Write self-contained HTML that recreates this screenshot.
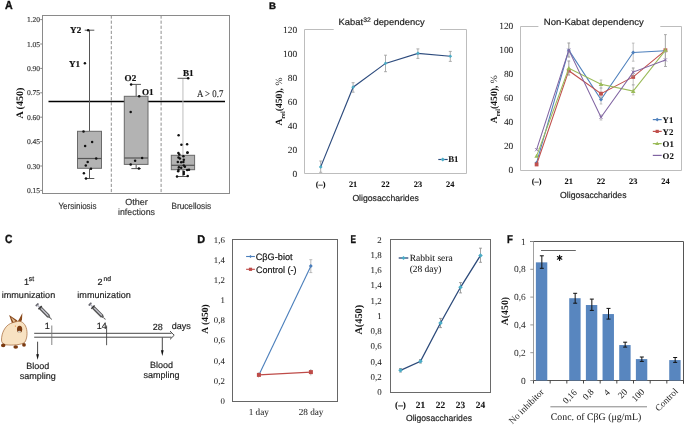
<!DOCTYPE html><html><head><meta charset="utf-8"><style>html,body{margin:0;padding:0;background:#fff;overflow:hidden}svg{display:block;will-change:transform;text-rendering:geometricPrecision}</style></head><body>
<svg width="685" height="426" viewBox="0 0 685 426">
<rect width="685" height="426" fill="#fff"/>
<text x="5.1" y="8.6" style="font-family:'Liberation Sans',sans-serif;font-size:11.6px;font-weight:bold" text-anchor="start" fill="#111" stroke="#111" stroke-width="0.35" textLength="7.7" lengthAdjust="spacingAndGlyphs" >A</text>
<rect x="42.5" y="15.5" width="187.0" height="178.0" fill="none" stroke="#8a8a8a" stroke-width="1"/>
<line x1="40.2" y1="19.6" x2="42.5" y2="19.6" stroke="#8a8a8a" stroke-width="1" />
<text x="40.1" y="22.200000000000003" style="font-family:'Liberation Serif',serif;font-size:7.5px;font-weight:normal" text-anchor="end" fill="#333" stroke="#333" stroke-width="0.15" >1.20</text>
<line x1="40.2" y1="43.999999999999986" x2="42.5" y2="43.999999999999986" stroke="#8a8a8a" stroke-width="1" />
<text x="40.1" y="46.59999999999999" style="font-family:'Liberation Serif',serif;font-size:7.5px;font-weight:normal" text-anchor="end" fill="#333" stroke="#333" stroke-width="0.15" >1.05</text>
<line x1="40.2" y1="68.39999999999998" x2="42.5" y2="68.39999999999998" stroke="#8a8a8a" stroke-width="1" />
<text x="40.1" y="70.99999999999997" style="font-family:'Liberation Serif',serif;font-size:7.5px;font-weight:normal" text-anchor="end" fill="#333" stroke="#333" stroke-width="0.15" >0.90</text>
<line x1="40.2" y1="92.79999999999998" x2="42.5" y2="92.79999999999998" stroke="#8a8a8a" stroke-width="1" />
<text x="40.1" y="95.39999999999998" style="font-family:'Liberation Serif',serif;font-size:7.5px;font-weight:normal" text-anchor="end" fill="#333" stroke="#333" stroke-width="0.15" >0.75</text>
<line x1="40.2" y1="117.19999999999999" x2="42.5" y2="117.19999999999999" stroke="#8a8a8a" stroke-width="1" />
<text x="40.1" y="119.79999999999998" style="font-family:'Liberation Serif',serif;font-size:7.5px;font-weight:normal" text-anchor="end" fill="#333" stroke="#333" stroke-width="0.15" >0.60</text>
<line x1="40.2" y1="141.6" x2="42.5" y2="141.6" stroke="#8a8a8a" stroke-width="1" />
<text x="40.1" y="144.2" style="font-family:'Liberation Serif',serif;font-size:7.5px;font-weight:normal" text-anchor="end" fill="#333" stroke="#333" stroke-width="0.15" >0.45</text>
<line x1="40.2" y1="165.99999999999997" x2="42.5" y2="165.99999999999997" stroke="#8a8a8a" stroke-width="1" />
<text x="40.1" y="168.59999999999997" style="font-family:'Liberation Serif',serif;font-size:7.5px;font-weight:normal" text-anchor="end" fill="#333" stroke="#333" stroke-width="0.15" >0.30</text>
<line x1="40.2" y1="190.4" x2="42.5" y2="190.4" stroke="#8a8a8a" stroke-width="1" />
<text x="40.1" y="193.0" style="font-family:'Liberation Serif',serif;font-size:7.5px;font-weight:normal" text-anchor="end" fill="#333" stroke="#333" stroke-width="0.15" >0.15</text>
<line x1="111.3" y1="15.5" x2="111.3" y2="193.5" stroke="#8f8f8f" stroke-width="1" stroke-dasharray="3.2,1.9"/>
<line x1="161.1" y1="15.5" x2="161.1" y2="193.5" stroke="#8f8f8f" stroke-width="1" stroke-dasharray="3.2,1.9"/>
<line x1="48.5" y1="101.4" x2="225" y2="101.4" stroke="#000" stroke-width="1.5" />
<text x="223.3" y="97.3" style="font-family:'Liberation Serif',serif;font-size:10.2px;font-weight:normal" text-anchor="end" fill="#222" stroke="#222" stroke-width="0.1" textLength="26.3" lengthAdjust="spacingAndGlyphs" >A &gt; 0.7</text>
<line x1="89.5" y1="30.2" x2="89.5" y2="131.3" stroke="#555" stroke-width="1" />
<line x1="89.5" y1="168.3" x2="89.5" y2="178.5" stroke="#555" stroke-width="1" />
<line x1="84.7" y1="30.2" x2="94.3" y2="30.2" stroke="#555" stroke-width="1" />
<line x1="84.7" y1="178.5" x2="94.3" y2="178.5" stroke="#555" stroke-width="1" />
<rect x="77.5" y="131.3" width="24.0" height="37.0" fill="#b3b3b3" stroke="#6a6a6a" stroke-width="1"/>
<line x1="77.5" y1="158.5" x2="101.5" y2="158.5" stroke="#555" stroke-width="1.2" />
<line x1="136.15" y1="84.4" x2="136.15" y2="96.3" stroke="#555" stroke-width="1" />
<line x1="136.15" y1="164.4" x2="136.15" y2="168.6" stroke="#555" stroke-width="1" />
<line x1="131.35" y1="84.4" x2="140.95000000000002" y2="84.4" stroke="#555" stroke-width="1" />
<line x1="131.35" y1="168.6" x2="140.95000000000002" y2="168.6" stroke="#555" stroke-width="1" />
<rect x="124.3" y="96.3" width="23.700000000000003" height="68.10000000000001" fill="#b3b3b3" stroke="#6a6a6a" stroke-width="1"/>
<line x1="124.3" y1="158" x2="148" y2="158" stroke="#555" stroke-width="1.2" />
<line x1="182.95" y1="78.3" x2="182.95" y2="155.3" stroke="#bdbdbd" stroke-width="1" />
<line x1="182.95" y1="169.7" x2="182.95" y2="176.5" stroke="#555" stroke-width="1" />
<line x1="177.54999999999998" y1="78.3" x2="188.35" y2="78.3" stroke="#555" stroke-width="1" />
<line x1="177.54999999999998" y1="176.5" x2="188.35" y2="176.5" stroke="#555" stroke-width="1" />
<rect x="171.3" y="155.3" width="23.299999999999983" height="14.399999999999977" fill="#b3b3b3" stroke="#6a6a6a" stroke-width="1"/>
<line x1="171.3" y1="165.3" x2="194.6" y2="165.3" stroke="#555" stroke-width="1.2" />
<circle cx="88.2" cy="30.2" r="1.25" fill="#111"/>
<circle cx="84.9" cy="63.3" r="1.25" fill="#111"/>
<circle cx="83.5" cy="131.4" r="1.25" fill="#111"/>
<circle cx="92.1" cy="142" r="1.25" fill="#111"/>
<circle cx="85.1" cy="145.9" r="1.25" fill="#111"/>
<circle cx="96.2" cy="158.5" r="1.25" fill="#111"/>
<circle cx="87.7" cy="162" r="1.25" fill="#111"/>
<circle cx="85.8" cy="165.5" r="1.25" fill="#111"/>
<circle cx="91" cy="168.7" r="1.25" fill="#111"/>
<circle cx="83.9" cy="173.2" r="1.25" fill="#111"/>
<circle cx="86" cy="178.5" r="1.25" fill="#111"/>
<circle cx="131.1" cy="84.4" r="1.25" fill="#111"/>
<circle cx="139.2" cy="96.3" r="1.25" fill="#111"/>
<circle cx="130.7" cy="112.1" r="1.25" fill="#111"/>
<circle cx="142.1" cy="158" r="1.25" fill="#111"/>
<circle cx="135.1" cy="160.8" r="1.25" fill="#111"/>
<circle cx="130.7" cy="164.5" r="1.25" fill="#111"/>
<circle cx="138.9" cy="168.6" r="1.25" fill="#111"/>
<circle cx="188.2" cy="78.3" r="1.25" fill="#111"/>
<circle cx="178.6" cy="135.3" r="1.25" fill="#111"/>
<circle cx="181.4" cy="144.7" r="1.25" fill="#111"/>
<circle cx="187.1" cy="144.2" r="1.25" fill="#111"/>
<circle cx="187.5" cy="152.5" r="1.25" fill="#111"/>
<circle cx="178.4" cy="153.1" r="1.25" fill="#111"/>
<circle cx="179.3" cy="154.4" r="1.25" fill="#111"/>
<circle cx="187.4" cy="152.7" r="1.25" fill="#111"/>
<circle cx="183.4" cy="156.3" r="1.25" fill="#111"/>
<circle cx="178.5" cy="157.6" r="1.25" fill="#111"/>
<circle cx="179.9" cy="158.5" r="1.25" fill="#111"/>
<circle cx="183.8" cy="159.7" r="1.25" fill="#111"/>
<circle cx="177.8" cy="161.9" r="1.25" fill="#111"/>
<circle cx="181.2" cy="162.3" r="1.25" fill="#111"/>
<circle cx="183.4" cy="161.9" r="1.25" fill="#111"/>
<circle cx="183.8" cy="165.4" r="1.25" fill="#111"/>
<circle cx="184.9" cy="166.8" r="1.25" fill="#111"/>
<circle cx="178.9" cy="167.2" r="1.25" fill="#111"/>
<circle cx="181.2" cy="167.7" r="1.25" fill="#111"/>
<circle cx="178.5" cy="169.8" r="1.25" fill="#111"/>
<circle cx="187.2" cy="170" r="1.25" fill="#111"/>
<circle cx="189" cy="169.8" r="1.25" fill="#111"/>
<circle cx="178.2" cy="171.3" r="1.25" fill="#111"/>
<circle cx="183.8" cy="172.1" r="1.25" fill="#111"/>
<circle cx="183.8" cy="173.9" r="1.25" fill="#111"/>
<circle cx="177" cy="176.6" r="1.25" fill="#111"/>
<circle cx="187.7" cy="176" r="1.25" fill="#111"/>
<text x="81.2" y="33.2" style="font-family:'Liberation Serif',serif;font-size:9.1px;font-weight:bold" text-anchor="end" fill="#111" stroke="#111" stroke-width="0.2" >Y2</text>
<text x="80" y="66.5" style="font-family:'Liberation Serif',serif;font-size:9.1px;font-weight:bold" text-anchor="end" fill="#111" stroke="#111" stroke-width="0.2" >Y1</text>
<text x="124.6" y="80.8" style="font-family:'Liberation Serif',serif;font-size:9.1px;font-weight:bold" text-anchor="start" fill="#111" stroke="#111" stroke-width="0.2" >O2</text>
<text x="141.9" y="95.3" style="font-family:'Liberation Serif',serif;font-size:9.1px;font-weight:bold" text-anchor="start" fill="#111" stroke="#111" stroke-width="0.2" >O1</text>
<text x="183" y="75.6" style="font-family:'Liberation Serif',serif;font-size:9.1px;font-weight:bold" text-anchor="start" fill="#111" stroke="#111" stroke-width="0.2" >B1</text>
<text transform="translate(23.2,103.2) rotate(-90)" x="0" y="0" style="font-family:'Liberation Serif',serif;font-size:10px;font-weight:bold" text-anchor="middle" fill="#111">A (450)</text>
<text x="77.45" y="208.8" style="font-family:'Liberation Sans',sans-serif;font-size:9px;font-weight:normal" text-anchor="middle" fill="#333" stroke="#333" stroke-width="0.18" textLength="37.9" lengthAdjust="spacingAndGlyphs">Yersiniosis</text>
<text x="136.5" y="205" style="font-family:'Liberation Sans',sans-serif;font-size:9px;font-weight:normal" text-anchor="middle" fill="#333" stroke="#333" stroke-width="0.18" >Other</text>
<text x="136.5" y="215.4" style="font-family:'Liberation Sans',sans-serif;font-size:9px;font-weight:normal" text-anchor="middle" fill="#333" stroke="#333" stroke-width="0.18" textLength="36.9" lengthAdjust="spacingAndGlyphs">infections</text>
<text x="191.3" y="208.6" style="font-family:'Liberation Sans',sans-serif;font-size:9px;font-weight:normal" text-anchor="middle" fill="#333" stroke="#333" stroke-width="0.18" textLength="39.7" lengthAdjust="spacingAndGlyphs">Brucellosis</text>
<text x="269.1" y="8.5" style="font-family:'Liberation Sans',sans-serif;font-size:9.4px;font-weight:bold" text-anchor="start" fill="#111" stroke="#111" stroke-width="0.35" textLength="7.0" lengthAdjust="spacingAndGlyphs" >B</text>
<line x1="304.5" y1="29.5" x2="304.5" y2="173.5" stroke="#bdbdbd" stroke-width="1" />
<line x1="304.5" y1="173.5" x2="466.5" y2="173.5" stroke="#bdbdbd" stroke-width="1" />
<line x1="466.5" y1="29.5" x2="466.5" y2="173.5" stroke="#bdbdbd" stroke-width="1" />
<line x1="304.5" y1="29.5" x2="333.7" y2="29.5" stroke="#bdbdbd" stroke-width="1" />
<line x1="440" y1="29.5" x2="466.5" y2="29.5" stroke="#bdbdbd" stroke-width="1" />
<text x="338.6" y="24.9" style="font-family:'Liberation Sans',sans-serif;font-size:9px;font-weight:normal" text-anchor="start" fill="#222" stroke="#222" stroke-width="0.18" textLength="86" lengthAdjust="spacingAndGlyphs">Kabat<tspan style="font-size:6.6px" dy="-3">32</tspan><tspan dy="3"> dependency</tspan></text>
<text x="297.09999999999997" y="176.55" style="font-family:'Liberation Serif',serif;font-size:9.4px;font-weight:normal" text-anchor="end" fill="#222" stroke="#222" stroke-width="0.04" >0</text>
<text x="297.09999999999997" y="152.55" style="font-family:'Liberation Serif',serif;font-size:9.4px;font-weight:normal" text-anchor="end" fill="#222" stroke="#222" stroke-width="0.04" >20</text>
<text x="297.09999999999997" y="128.55" style="font-family:'Liberation Serif',serif;font-size:9.4px;font-weight:normal" text-anchor="end" fill="#222" stroke="#222" stroke-width="0.04" >40</text>
<text x="297.09999999999997" y="104.55" style="font-family:'Liberation Serif',serif;font-size:9.4px;font-weight:normal" text-anchor="end" fill="#222" stroke="#222" stroke-width="0.04" >60</text>
<text x="297.09999999999997" y="80.55" style="font-family:'Liberation Serif',serif;font-size:9.4px;font-weight:normal" text-anchor="end" fill="#222" stroke="#222" stroke-width="0.04" >80</text>
<text x="297.09999999999997" y="56.55" style="font-family:'Liberation Serif',serif;font-size:9.4px;font-weight:normal" text-anchor="end" fill="#222" stroke="#222" stroke-width="0.04" >100</text>
<text x="297.09999999999997" y="32.55" style="font-family:'Liberation Serif',serif;font-size:9.4px;font-weight:normal" text-anchor="end" fill="#222" stroke="#222" stroke-width="0.04" >120</text>
<text x="320.7" y="187.3" style="font-family:'Liberation Serif',serif;font-size:8.4px;font-weight:bold" text-anchor="middle" fill="#111" stroke="#111" stroke-width="0.08" >(–)</text>
<text x="353.09999999999997" y="187.3" style="font-family:'Liberation Serif',serif;font-size:8.4px;font-weight:bold" text-anchor="middle" fill="#111" stroke="#111" stroke-width="0.08" >21</text>
<text x="385.5" y="187.3" style="font-family:'Liberation Serif',serif;font-size:8.4px;font-weight:bold" text-anchor="middle" fill="#111" stroke="#111" stroke-width="0.08" >22</text>
<text x="417.9" y="187.3" style="font-family:'Liberation Serif',serif;font-size:8.4px;font-weight:bold" text-anchor="middle" fill="#111" stroke="#111" stroke-width="0.08" >23</text>
<text x="450.29999999999995" y="187.3" style="font-family:'Liberation Serif',serif;font-size:8.4px;font-weight:bold" text-anchor="middle" fill="#111" stroke="#111" stroke-width="0.08" >24</text>
<text x="385.6" y="200.9" style="font-family:'Liberation Sans',sans-serif;font-size:8.7px;font-weight:normal" text-anchor="middle" fill="#222" stroke="#222" stroke-width="0.18" textLength="66.4" lengthAdjust="spacingAndGlyphs">Oligosaccharides</text>
<text transform="translate(282,101.6) rotate(-90)" style="font-family:'Liberation Serif',serif;font-size:9.6px;font-weight:bold" text-anchor="middle" fill="#111">A<tspan style="font-size:6.5px" dy="2.5">rel</tspan><tspan dy="-2.5">(450), </tspan><tspan style="font-weight:normal">%</tspan></text>
<line x1="320.7" y1="161" x2="320.7" y2="172.3" stroke="#9a9a9a" stroke-width="0.8" />
<line x1="319.2" y1="161" x2="322.2" y2="161" stroke="#9a9a9a" stroke-width="0.8" />
<line x1="319.2" y1="172.3" x2="322.2" y2="172.3" stroke="#9a9a9a" stroke-width="0.8" />
<line x1="353.09999999999997" y1="82.7" x2="353.09999999999997" y2="92.2" stroke="#9a9a9a" stroke-width="0.8" />
<line x1="351.59999999999997" y1="82.7" x2="354.59999999999997" y2="82.7" stroke="#9a9a9a" stroke-width="0.8" />
<line x1="351.59999999999997" y1="92.2" x2="354.59999999999997" y2="92.2" stroke="#9a9a9a" stroke-width="0.8" />
<line x1="385.5" y1="55.2" x2="385.5" y2="71.7" stroke="#9a9a9a" stroke-width="0.8" />
<line x1="384.0" y1="55.2" x2="387.0" y2="55.2" stroke="#9a9a9a" stroke-width="0.8" />
<line x1="384.0" y1="71.7" x2="387.0" y2="71.7" stroke="#9a9a9a" stroke-width="0.8" />
<line x1="417.9" y1="48.9" x2="417.9" y2="58.4" stroke="#9a9a9a" stroke-width="0.8" />
<line x1="416.4" y1="48.9" x2="419.4" y2="48.9" stroke="#9a9a9a" stroke-width="0.8" />
<line x1="416.4" y1="58.4" x2="419.4" y2="58.4" stroke="#9a9a9a" stroke-width="0.8" />
<line x1="450.29999999999995" y1="51.4" x2="450.29999999999995" y2="61.4" stroke="#9a9a9a" stroke-width="0.8" />
<line x1="448.79999999999995" y1="51.4" x2="451.79999999999995" y2="51.4" stroke="#9a9a9a" stroke-width="0.8" />
<line x1="448.79999999999995" y1="61.4" x2="451.79999999999995" y2="61.4" stroke="#9a9a9a" stroke-width="0.8" />
<polyline points="320.7,166.9 353.1,87.2 385.5,63.4 417.9,53.4 450.3,56.3" fill="none" stroke="#2e4c7e" stroke-width="1.15"/>
<rect x="319.40" y="165.59" width="2.6" height="2.6" fill="#4bacc6" transform="rotate(45 320.70 166.89)"/>
<rect x="351.80" y="85.86" width="2.6" height="2.6" fill="#4bacc6" transform="rotate(45 353.10 87.16)"/>
<rect x="384.20" y="62.05" width="2.6" height="2.6" fill="#4bacc6" transform="rotate(45 385.50 63.35)"/>
<rect x="416.60" y="52.07" width="2.6" height="2.6" fill="#4bacc6" transform="rotate(45 417.90 53.37)"/>
<rect x="449.00" y="54.96" width="2.6" height="2.6" fill="#4bacc6" transform="rotate(45 450.30 56.26)"/>
<line x1="438.3" y1="159.5" x2="447.7" y2="159.5" stroke="#2e4c7e" stroke-width="1.15" />
<rect x="441.3" y="158.0" width="3" height="3" fill="#4bacc6" transform="rotate(45 442.8 159.5)"/>
<text x="448.2" y="162.2" style="font-family:'Liberation Serif',serif;font-size:8.8px;font-weight:bold" text-anchor="start" fill="#111" stroke="#111" stroke-width="0.08" >B1</text>
<line x1="520.5" y1="26.5" x2="520.5" y2="170.5" stroke="#bdbdbd" stroke-width="1" />
<line x1="520.5" y1="170.5" x2="681.5" y2="170.5" stroke="#bdbdbd" stroke-width="1" />
<line x1="681.5" y1="26.5" x2="681.5" y2="170.5" stroke="#bdbdbd" stroke-width="1" />
<line x1="520.5" y1="26.5" x2="538.4" y2="26.5" stroke="#bdbdbd" stroke-width="1" />
<line x1="660.3" y1="26.5" x2="681.5" y2="26.5" stroke="#bdbdbd" stroke-width="1" />
<text x="543.8" y="24.9" style="font-family:'Liberation Sans',sans-serif;font-size:9px;font-weight:normal" text-anchor="start" fill="#222" stroke="#222" stroke-width="0.18" textLength="100" lengthAdjust="spacingAndGlyphs">Non-Kabat dependency</text>
<text x="513.3" y="173.0" style="font-family:'Liberation Serif',serif;font-size:9.4px;font-weight:normal" text-anchor="end" fill="#222" stroke="#222" stroke-width="0.04" >0</text>
<text x="513.3" y="149.0" style="font-family:'Liberation Serif',serif;font-size:9.4px;font-weight:normal" text-anchor="end" fill="#222" stroke="#222" stroke-width="0.04" >20</text>
<text x="513.3" y="125.0" style="font-family:'Liberation Serif',serif;font-size:9.4px;font-weight:normal" text-anchor="end" fill="#222" stroke="#222" stroke-width="0.04" >40</text>
<text x="513.3" y="101.0" style="font-family:'Liberation Serif',serif;font-size:9.4px;font-weight:normal" text-anchor="end" fill="#222" stroke="#222" stroke-width="0.04" >60</text>
<text x="513.3" y="77.0" style="font-family:'Liberation Serif',serif;font-size:9.4px;font-weight:normal" text-anchor="end" fill="#222" stroke="#222" stroke-width="0.04" >80</text>
<text x="513.3" y="53.0" style="font-family:'Liberation Serif',serif;font-size:9.4px;font-weight:normal" text-anchor="end" fill="#222" stroke="#222" stroke-width="0.04" >100</text>
<text x="513.3" y="29.0" style="font-family:'Liberation Serif',serif;font-size:9.4px;font-weight:normal" text-anchor="end" fill="#222" stroke="#222" stroke-width="0.04" >120</text>
<text x="536.6" y="183.8" style="font-family:'Liberation Serif',serif;font-size:8.4px;font-weight:bold" text-anchor="middle" fill="#111" stroke="#111" stroke-width="0.08" >(–)</text>
<text x="568.8000000000001" y="183.8" style="font-family:'Liberation Serif',serif;font-size:8.4px;font-weight:bold" text-anchor="middle" fill="#111" stroke="#111" stroke-width="0.08" >21</text>
<text x="601.0" y="183.8" style="font-family:'Liberation Serif',serif;font-size:8.4px;font-weight:bold" text-anchor="middle" fill="#111" stroke="#111" stroke-width="0.08" >22</text>
<text x="633.2" y="183.8" style="font-family:'Liberation Serif',serif;font-size:8.4px;font-weight:bold" text-anchor="middle" fill="#111" stroke="#111" stroke-width="0.08" >23</text>
<text x="665.4000000000001" y="183.8" style="font-family:'Liberation Serif',serif;font-size:8.4px;font-weight:bold" text-anchor="middle" fill="#111" stroke="#111" stroke-width="0.08" >24</text>
<text x="593.3" y="197.6" style="font-family:'Liberation Sans',sans-serif;font-size:8.7px;font-weight:normal" text-anchor="middle" fill="#222" stroke="#222" stroke-width="0.18" textLength="66.4" lengthAdjust="spacingAndGlyphs">Oligosaccharides</text>
<text transform="translate(497.2,99.3) rotate(-90)" style="font-family:'Liberation Serif',serif;font-size:9.6px;font-weight:bold" text-anchor="middle" fill="#111">A<tspan style="font-size:6.5px" dy="2.5">rel</tspan><tspan dy="-2.5">(450), </tspan><tspan style="font-weight:normal">%</tspan></text>
<line x1="568.8000000000001" y1="43" x2="568.8000000000001" y2="57" stroke="#a8a8a8" stroke-width="0.7" />
<line x1="567.5000000000001" y1="43" x2="570.1" y2="43" stroke="#a8a8a8" stroke-width="0.7" />
<line x1="567.5000000000001" y1="57" x2="570.1" y2="57" stroke="#a8a8a8" stroke-width="0.7" />
<line x1="601.0" y1="94" x2="601.0" y2="104" stroke="#a8a8a8" stroke-width="0.7" />
<line x1="599.7" y1="94" x2="602.3" y2="94" stroke="#a8a8a8" stroke-width="0.7" />
<line x1="599.7" y1="104" x2="602.3" y2="104" stroke="#a8a8a8" stroke-width="0.7" />
<line x1="633.2" y1="43.1" x2="633.2" y2="61.2" stroke="#a8a8a8" stroke-width="0.7" />
<line x1="631.9000000000001" y1="43.1" x2="634.5" y2="43.1" stroke="#a8a8a8" stroke-width="0.7" />
<line x1="631.9000000000001" y1="61.2" x2="634.5" y2="61.2" stroke="#a8a8a8" stroke-width="0.7" />
<polyline points="536.6,162.7 568.8,50.1 601.0,99.6 633.2,52.4 665.4,50.7" fill="none" stroke="#4f81bd" stroke-width="1.05"/>
<rect x="535.2" y="161.28375" width="2.8" height="2.8" fill="#4f81bd" transform="rotate(45 536.6 162.68375)"/>
<rect x="567.4000000000001" y="48.72975000000002" width="2.8" height="2.8" fill="#4f81bd" transform="rotate(45 568.8000000000001 50.129750000000016)"/>
<rect x="599.6" y="98.1525" width="2.8" height="2.8" fill="#4f81bd" transform="rotate(45 601.0 99.55250000000001)"/>
<rect x="631.8000000000001" y="51.014500000000005" width="2.8" height="2.8" fill="#4f81bd" transform="rotate(45 633.2 52.414500000000004)"/>
<rect x="664.0000000000001" y="49.331000000000024" width="2.8" height="2.8" fill="#4f81bd" transform="rotate(45 665.4000000000001 50.73100000000002)"/>
<line x1="568.8000000000001" y1="61" x2="568.8000000000001" y2="75" stroke="#a8a8a8" stroke-width="0.7" />
<line x1="567.5000000000001" y1="61" x2="570.1" y2="61" stroke="#a8a8a8" stroke-width="0.7" />
<line x1="567.5000000000001" y1="75" x2="570.1" y2="75" stroke="#a8a8a8" stroke-width="0.7" />
<line x1="601.0" y1="88" x2="601.0" y2="98" stroke="#a8a8a8" stroke-width="0.7" />
<line x1="599.7" y1="88" x2="602.3" y2="88" stroke="#a8a8a8" stroke-width="0.7" />
<line x1="599.7" y1="98" x2="602.3" y2="98" stroke="#a8a8a8" stroke-width="0.7" />
<line x1="633.2" y1="68" x2="633.2" y2="84.7" stroke="#a8a8a8" stroke-width="0.7" />
<line x1="631.9000000000001" y1="68" x2="634.5" y2="68" stroke="#a8a8a8" stroke-width="0.7" />
<line x1="631.9000000000001" y1="84.7" x2="634.5" y2="84.7" stroke="#a8a8a8" stroke-width="0.7" />
<line x1="665.4000000000001" y1="34.6" x2="665.4000000000001" y2="66.5" stroke="#a8a8a8" stroke-width="0.7" />
<line x1="664.1000000000001" y1="34.6" x2="666.7" y2="34.6" stroke="#a8a8a8" stroke-width="0.7" />
<line x1="664.1000000000001" y1="66.5" x2="666.7" y2="66.5" stroke="#a8a8a8" stroke-width="0.7" />
<polyline points="536.6,164.5 568.8,70.7 601.0,93.7 633.2,76.9 665.4,50.3" fill="none" stroke="#c0504d" stroke-width="1.05"/>
<rect x="534.7" y="162.5875" width="3.8" height="3.8" fill="#c0504d"/>
<rect x="566.9000000000001" y="68.7925" width="3.8" height="3.8" fill="#c0504d"/>
<rect x="599.1" y="91.76025" width="3.8" height="3.8" fill="#c0504d"/>
<rect x="631.3000000000001" y="75.0455" width="3.8" height="3.8" fill="#c0504d"/>
<rect x="663.5000000000001" y="48.350000000000016" width="3.8" height="3.8" fill="#c0504d"/>
<line x1="568.8000000000001" y1="61" x2="568.8000000000001" y2="75" stroke="#a8a8a8" stroke-width="0.7" />
<line x1="567.5000000000001" y1="61" x2="570.1" y2="61" stroke="#a8a8a8" stroke-width="0.7" />
<line x1="567.5000000000001" y1="75" x2="570.1" y2="75" stroke="#a8a8a8" stroke-width="0.7" />
<line x1="601.0" y1="80" x2="601.0" y2="88" stroke="#a8a8a8" stroke-width="0.7" />
<line x1="599.7" y1="80" x2="602.3" y2="80" stroke="#a8a8a8" stroke-width="0.7" />
<line x1="599.7" y1="88" x2="602.3" y2="88" stroke="#a8a8a8" stroke-width="0.7" />
<line x1="633.2" y1="85" x2="633.2" y2="94.9" stroke="#a8a8a8" stroke-width="0.7" />
<line x1="631.9000000000001" y1="85" x2="634.5" y2="85" stroke="#a8a8a8" stroke-width="0.7" />
<line x1="631.9000000000001" y1="94.9" x2="634.5" y2="94.9" stroke="#a8a8a8" stroke-width="0.7" />
<line x1="665.4000000000001" y1="34.6" x2="665.4000000000001" y2="66.5" stroke="#a8a8a8" stroke-width="0.7" />
<line x1="664.1000000000001" y1="34.6" x2="666.7" y2="34.6" stroke="#a8a8a8" stroke-width="0.7" />
<line x1="664.1000000000001" y1="66.5" x2="666.7" y2="66.5" stroke="#a8a8a8" stroke-width="0.7" />
<polyline points="536.6,156.1 568.8,68.3 601.0,84.3 633.2,91.1 665.4,50.3" fill="none" stroke="#9bbb59" stroke-width="1.05"/>
<polygon points="534.3000000000001,157.87 538.9,157.87 536.6,153.67" fill="#9bbb59"/>
<polygon points="566.5000000000001,70.0875 571.1,70.0875 568.8000000000001,65.8875" fill="#9bbb59"/>
<polygon points="598.7,86.08075 603.3,86.08075 601.0,81.88074999999999" fill="#9bbb59"/>
<polygon points="630.9000000000001,92.935 635.5,92.935 633.2,88.735" fill="#9bbb59"/>
<polygon points="663.1000000000001,52.05000000000001 667.7,52.05000000000001 665.4000000000001,47.850000000000016" fill="#9bbb59"/>
<line x1="568.8000000000001" y1="43" x2="568.8000000000001" y2="57" stroke="#a8a8a8" stroke-width="0.7" />
<line x1="567.5000000000001" y1="43" x2="570.1" y2="43" stroke="#a8a8a8" stroke-width="0.7" />
<line x1="567.5000000000001" y1="57" x2="570.1" y2="57" stroke="#a8a8a8" stroke-width="0.7" />
<line x1="601.0" y1="115" x2="601.0" y2="120" stroke="#a8a8a8" stroke-width="0.7" />
<line x1="599.7" y1="115" x2="602.3" y2="115" stroke="#a8a8a8" stroke-width="0.7" />
<line x1="599.7" y1="120" x2="602.3" y2="120" stroke="#a8a8a8" stroke-width="0.7" />
<line x1="633.2" y1="68" x2="633.2" y2="76" stroke="#a8a8a8" stroke-width="0.7" />
<line x1="631.9000000000001" y1="68" x2="634.5" y2="68" stroke="#a8a8a8" stroke-width="0.7" />
<line x1="631.9000000000001" y1="76" x2="634.5" y2="76" stroke="#a8a8a8" stroke-width="0.7" />
<line x1="665.4000000000001" y1="52" x2="665.4000000000001" y2="66.5" stroke="#a8a8a8" stroke-width="0.7" />
<line x1="664.1000000000001" y1="52" x2="666.7" y2="52" stroke="#a8a8a8" stroke-width="0.7" />
<line x1="664.1000000000001" y1="66.5" x2="666.7" y2="66.5" stroke="#a8a8a8" stroke-width="0.7" />
<polyline points="536.6,149.7 568.8,50.1 601.0,117.3 633.2,72.1 665.4,59.9" fill="none" stroke="#8064a2" stroke-width="1.05"/>
<path d="M535.0,148.09675000000001L538.2,151.29675M535.0,151.29675L538.2,148.09675000000001" stroke="#8064a2" stroke-width="0.8"/>
<path d="M567.2,48.529750000000014L570.4000000000001,51.72975000000002M567.2,51.72975000000002L570.4000000000001,48.529750000000014" stroke="#8064a2" stroke-width="0.8"/>
<path d="M599.4,115.74950000000001L602.6,118.9495M599.4,118.9495L602.6,115.74950000000001" stroke="#8064a2" stroke-width="0.8"/>
<path d="M631.6,70.53550000000001L634.8000000000001,73.7355M631.6,73.7355L634.8000000000001,70.53550000000001" stroke="#8064a2" stroke-width="0.8"/>
<path d="M663.8000000000001,58.27L667.0000000000001,61.470000000000006M663.8000000000001,61.470000000000006L667.0000000000001,58.27" stroke="#8064a2" stroke-width="0.8"/>
<line x1="652.8" y1="119.6" x2="661.7" y2="119.6" stroke="#4f81bd" stroke-width="1.2" />
<rect x="655.9000000000001" y="118.3" width="2.6" height="2.6" fill="#4f81bd" transform="rotate(45 657.2 119.6)"/>
<text x="662.6" y="122.69999999999999" style="font-family:'Liberation Serif',serif;font-size:8.8px;font-weight:bold" text-anchor="start" fill="#111" stroke="#111" stroke-width="0.08" >Y1</text>
<line x1="652.8" y1="131.4" x2="661.7" y2="131.4" stroke="#c0504d" stroke-width="1.2" />
<rect x="655.6" y="129.8" width="3.2" height="3.2" fill="#c0504d"/>
<text x="662.6" y="134.5" style="font-family:'Liberation Serif',serif;font-size:8.8px;font-weight:bold" text-anchor="start" fill="#111" stroke="#111" stroke-width="0.08" >Y2</text>
<line x1="652.8" y1="143.6" x2="661.7" y2="143.6" stroke="#9bbb59" stroke-width="1.2" />
<polygon points="655.2,145.1 659.2,145.1 657.2,141.6" fill="#9bbb59"/>
<text x="662.6" y="146.7" style="font-family:'Liberation Serif',serif;font-size:8.8px;font-weight:bold" text-anchor="start" fill="#111" stroke="#111" stroke-width="0.08" >O1</text>
<line x1="652.8" y1="155.4" x2="661.7" y2="155.4" stroke="#8064a2" stroke-width="1.2" />
<text x="662.6" y="158.5" style="font-family:'Liberation Serif',serif;font-size:8.8px;font-weight:bold" text-anchor="start" fill="#111" stroke="#111" stroke-width="0.08" >O2</text>
<text x="5.1" y="242.8" style="font-family:'Liberation Sans',sans-serif;font-size:12px;font-weight:bold" text-anchor="start" fill="#111" stroke="#111" stroke-width="0.35" textLength="7.4" lengthAdjust="spacingAndGlyphs" >C</text>
<text x="24" y="284.8" style="font-family:'Liberation Sans',sans-serif;font-size:9px;font-weight:normal" text-anchor="start" fill="#222" stroke="#222" stroke-width="0.18" >1</text>
<text x="28.8" y="280.8" style="font-family:'Liberation Sans',sans-serif;font-size:6.8px;font-weight:normal" text-anchor="start" fill="#222" stroke="#222" stroke-width="0.18" >st</text>
<text x="28.45" y="297.5" style="font-family:'Liberation Sans',sans-serif;font-size:9px;font-weight:normal" text-anchor="middle" fill="#222" stroke="#222" stroke-width="0.18" textLength="53.5" lengthAdjust="spacingAndGlyphs">immunization</text>
<text x="97.6" y="284.8" style="font-family:'Liberation Sans',sans-serif;font-size:9px;font-weight:normal" text-anchor="start" fill="#222" stroke="#222" stroke-width="0.18" >2</text>
<text x="103.6" y="280.8" style="font-family:'Liberation Sans',sans-serif;font-size:6.8px;font-weight:normal" text-anchor="start" fill="#222" stroke="#222" stroke-width="0.18" >nd</text>
<text x="104.05" y="297.5" style="font-family:'Liberation Sans',sans-serif;font-size:9px;font-weight:normal" text-anchor="middle" fill="#222" stroke="#222" stroke-width="0.18" textLength="53.5" lengthAdjust="spacingAndGlyphs">immunization</text>
<g transform="translate(36.8,304.4) rotate(45.4)"><rect x="-0.4" y="-1.9" width="1.8" height="3.8" rx="0.6" fill="#6a6a72"/><rect x="1.3" y="-0.8" width="2.8" height="1.6" fill="#b8b8c4"/><rect x="3.9" y="-2.3" width="1.5" height="4.6" fill="#333"/><rect x="5.2" y="-1.8" width="11.88" height="3.6" fill="#555" /><rect x="6" y="-0.9" width="10.08" height="1.3" fill="#c8c8d0"/><rect x="17.08" y="-0.9" width="1.4" height="1.8" fill="#444"/><rect x="18.48" y="-0.35" width="2.87" height="0.7" fill="#444"/></g>
<g transform="translate(89.7,303.8) rotate(45.0)"><rect x="-0.4" y="-1.9" width="1.8" height="3.8" rx="0.6" fill="#6a6a72"/><rect x="1.3" y="-0.8" width="2.8" height="1.6" fill="#b8b8c4"/><rect x="3.9" y="-2.3" width="1.5" height="4.6" fill="#333"/><rect x="5.2" y="-1.8" width="12.68" height="3.6" fill="#555" /><rect x="6" y="-0.9" width="10.88" height="1.3" fill="#c8c8d0"/><rect x="17.88" y="-0.9" width="1.4" height="1.8" fill="#444"/><rect x="19.28" y="-0.35" width="3.07" height="0.7" fill="#444"/></g>
<g><polygon points="9.1,315 17.4,320.6 15.6,323.6 12.2,323.8" fill="#8a4a1c"/><polygon points="11,317.2 15.6,321 13.6,322.6" fill="#e6c49a"/><polygon points="22.4,313 22,319.6 20.8,322.2 17.6,322" fill="#8a4a1c"/><path d="M1.5,340 C1.5,333 5,326 10.5,323.5 C13,322.3 15.5,322 17,321.5 C20,320.5 23.5,322 25.5,326 C27.5,330 27.8,337 25,342 C22,345 12,345.5 6,344.8 C3,344.5 1.5,342.5 1.5,340 Z" fill="#f8e2c2" stroke="#9a5a26" stroke-width="0.65"/><ellipse cx="19.6" cy="329.2" rx="2.6" ry="3.5" fill="#7a3a10"/><ellipse cx="19.4" cy="331.9" rx="1.6" ry="1.1" fill="#d8d0c0"/><circle cx="15.4" cy="326.1" r="0.6" fill="#f08a30"/><ellipse cx="3.2" cy="345.4" rx="2.2" ry="1.8" fill="#7a3a10"/><ellipse cx="15.7" cy="347" rx="2.3" ry="1.8" fill="#7a3a10"/><ellipse cx="24" cy="344.9" rx="1.9" ry="1.8" fill="#7a3a10"/></g>
<line x1="34.2" y1="333.3" x2="171.5" y2="333.3" stroke="#333" stroke-width="0.9" />
<line x1="34.2" y1="337.2" x2="171.5" y2="337.2" stroke="#333" stroke-width="0.9" />
<polyline points="170,331.1 174.2,335.25 170,339.4" fill="none" stroke="#333" stroke-width="0.9"/>
<line x1="51.8" y1="325.5" x2="51.8" y2="345" stroke="#777" stroke-width="0.9" />
<line x1="106.6" y1="325.5" x2="106.6" y2="345.2" stroke="#444" stroke-width="0.9" />
<text x="44.8" y="328.6" style="font-family:'Liberation Sans',sans-serif;font-size:9px;font-weight:normal" text-anchor="start" fill="#222" stroke="#222" stroke-width="0.18" >1</text>
<text x="101.8" y="329.4" style="font-family:'Liberation Sans',sans-serif;font-size:9px;font-weight:normal" text-anchor="middle" fill="#222" stroke="#222" stroke-width="0.18" >14</text>
<text x="157.8" y="329.7" style="font-family:'Liberation Sans',sans-serif;font-size:9px;font-weight:normal" text-anchor="middle" fill="#222" stroke="#222" stroke-width="0.18" >28</text>
<text x="171.7" y="329" style="font-family:'Liberation Sans',sans-serif;font-size:9px;font-weight:normal" text-anchor="start" fill="#222" stroke="#222" stroke-width="0.18" >days</text>
<line x1="37.6" y1="341.7" x2="37.6" y2="355" stroke="#333" stroke-width="0.9" />
<polygon points="36.2,354.2 39,354.2 37.6,359.8" fill="#111"/>
<line x1="162.3" y1="337.5" x2="162.3" y2="351" stroke="#333" stroke-width="0.9" />
<polygon points="160.9,350.3 163.7,350.3 162.3,356" fill="#111"/>
<text x="37.7" y="368.8" style="font-family:'Liberation Sans',sans-serif;font-size:9px;font-weight:normal" text-anchor="middle" fill="#222" stroke="#222" stroke-width="0.18" >Blood</text>
<text x="37.7" y="378.9" style="font-family:'Liberation Sans',sans-serif;font-size:9px;font-weight:normal" text-anchor="middle" fill="#222" stroke="#222" stroke-width="0.18" >sampling</text>
<text x="161.4" y="367.9" style="font-family:'Liberation Sans',sans-serif;font-size:9px;font-weight:normal" text-anchor="middle" fill="#222" stroke="#222" stroke-width="0.18" >Blood</text>
<text x="161.6" y="378" style="font-family:'Liberation Sans',sans-serif;font-size:9px;font-weight:normal" text-anchor="middle" fill="#222" stroke="#222" stroke-width="0.18" >sampling</text>
<text x="197.2" y="243" style="font-family:'Liberation Sans',sans-serif;font-size:11.2px;font-weight:bold" text-anchor="start" fill="#111" stroke="#111" stroke-width="0.35" textLength="7.9" lengthAdjust="spacingAndGlyphs" >D</text>
<rect x="232.5" y="239.5" width="105" height="162" fill="none" stroke="#666" stroke-width="1"/>
<text x="224.8" y="403.79999999999995" style="font-family:'Liberation Serif',serif;font-size:8.8px;font-weight:normal" text-anchor="end" fill="#222" stroke="#222" stroke-width="0.04" >0</text>
<text x="224.8" y="383.65999999999997" style="font-family:'Liberation Serif',serif;font-size:8.8px;font-weight:normal" text-anchor="end" fill="#222" stroke="#222" stroke-width="0.04" >0,2</text>
<text x="224.8" y="363.52" style="font-family:'Liberation Serif',serif;font-size:8.8px;font-weight:normal" text-anchor="end" fill="#222" stroke="#222" stroke-width="0.04" >0,4</text>
<text x="224.8" y="343.37999999999994" style="font-family:'Liberation Serif',serif;font-size:8.8px;font-weight:normal" text-anchor="end" fill="#222" stroke="#222" stroke-width="0.04" >0,6</text>
<text x="224.8" y="323.23999999999995" style="font-family:'Liberation Serif',serif;font-size:8.8px;font-weight:normal" text-anchor="end" fill="#222" stroke="#222" stroke-width="0.04" >0,8</text>
<text x="224.8" y="303.09999999999997" style="font-family:'Liberation Serif',serif;font-size:8.8px;font-weight:normal" text-anchor="end" fill="#222" stroke="#222" stroke-width="0.04" >1</text>
<text x="224.8" y="282.9599999999999" style="font-family:'Liberation Serif',serif;font-size:8.8px;font-weight:normal" text-anchor="end" fill="#222" stroke="#222" stroke-width="0.04" >1,2</text>
<text x="224.8" y="262.81999999999994" style="font-family:'Liberation Serif',serif;font-size:8.8px;font-weight:normal" text-anchor="end" fill="#222" stroke="#222" stroke-width="0.04" >1,4</text>
<text x="224.8" y="242.67999999999998" style="font-family:'Liberation Serif',serif;font-size:8.8px;font-weight:normal" text-anchor="end" fill="#222" stroke="#222" stroke-width="0.04" >1,6</text>
<text x="258.8" y="414.5" style="font-family:'Liberation Serif',serif;font-size:9.2px;font-weight:normal" text-anchor="middle" fill="#222" stroke="#222" stroke-width="0.04" >1 day</text>
<text x="311.1" y="414.5" style="font-family:'Liberation Serif',serif;font-size:9.2px;font-weight:normal" text-anchor="middle" fill="#222" stroke="#222" stroke-width="0.04" >28 day</text>
<text transform="translate(207.8,319.1) rotate(-90)" style="font-family:'Liberation Serif',serif;font-size:9.5px;font-weight:bold" text-anchor="middle" fill="#111">A (450)</text>
<line x1="310.8" y1="369" x2="310.8" y2="375.5" stroke="#aaa" stroke-width="0.8" />
<line x1="258.5" y1="372.5" x2="258.5" y2="377.5" stroke="#aaa" stroke-width="0.8" />
<line x1="258.9" y1="374.9" x2="310.9" y2="372.1" stroke="#be4b48" stroke-width="1.1" />
<line x1="310.8" y1="259.7" x2="310.8" y2="272.6" stroke="#aaa" stroke-width="0.8" />
<line x1="309.3" y1="259.7" x2="312.3" y2="259.7" stroke="#aaa" stroke-width="0.8" />
<line x1="309.3" y1="272.6" x2="312.3" y2="272.6" stroke="#aaa" stroke-width="0.8" />
<line x1="258.9" y1="374.9" x2="310.9" y2="266.1" stroke="#4a7ebb" stroke-width="1.1" />
<rect x="256.9" y="372.9" width="4" height="4" fill="#be4b48"/>
<rect x="308.9" y="370.1" width="4" height="4" fill="#be4b48"/>
<rect x="309.4" y="264.7" width="2.8" height="2.8" fill="#4a7ebb" transform="rotate(45 310.8 266.1)"/>
<line x1="246.1" y1="256.5" x2="254.9" y2="256.5" stroke="#4a7ebb" stroke-width="1.1" />
<rect x="249.5" y="255.5" width="2" height="2" fill="#4a7ebb" transform="rotate(45 250.5 256.5)"/>
<line x1="246.1" y1="269.3" x2="254.9" y2="269.3" stroke="#be4b48" stroke-width="1.1" />
<rect x="248.9" y="267.7" width="3.2" height="3.2" fill="#be4b48"/>
<text x="255.7" y="260" style="font-family:'Liberation Sans',sans-serif;font-size:9.2px;font-weight:normal" text-anchor="start" fill="#111" stroke="#111" stroke-width="0.18" textLength="36.9" lengthAdjust="spacingAndGlyphs">CβG-biot</text>
<text x="256" y="272.6" style="font-family:'Liberation Sans',sans-serif;font-size:9.2px;font-weight:normal" text-anchor="start" fill="#111" stroke="#111" stroke-width="0.18" textLength="40.6" lengthAdjust="spacingAndGlyphs">Control (-)</text>
<text x="350.5" y="242.9" style="font-family:'Liberation Sans',sans-serif;font-size:11.4px;font-weight:bold" text-anchor="start" fill="#111" stroke="#111" stroke-width="0.35" textLength="5.5" lengthAdjust="spacingAndGlyphs" >E</text>
<rect x="390.5" y="239.5" width="100" height="153" fill="none" stroke="#6a6a6a" stroke-width="1"/>
<text x="381.6" y="395.0" style="font-family:'Liberation Serif',serif;font-size:8.9px;font-weight:normal" text-anchor="end" fill="#222" stroke="#222" stroke-width="0.04" >0</text>
<text x="381.6" y="379.77" style="font-family:'Liberation Serif',serif;font-size:8.9px;font-weight:normal" text-anchor="end" fill="#222" stroke="#222" stroke-width="0.04" >0,2</text>
<text x="381.6" y="364.54" style="font-family:'Liberation Serif',serif;font-size:8.9px;font-weight:normal" text-anchor="end" fill="#222" stroke="#222" stroke-width="0.04" >0,4</text>
<text x="381.6" y="349.31" style="font-family:'Liberation Serif',serif;font-size:8.9px;font-weight:normal" text-anchor="end" fill="#222" stroke="#222" stroke-width="0.04" >0,6</text>
<text x="381.6" y="334.08" style="font-family:'Liberation Serif',serif;font-size:8.9px;font-weight:normal" text-anchor="end" fill="#222" stroke="#222" stroke-width="0.04" >0,8</text>
<text x="381.6" y="318.85" style="font-family:'Liberation Serif',serif;font-size:8.9px;font-weight:normal" text-anchor="end" fill="#222" stroke="#222" stroke-width="0.04" >1</text>
<text x="381.6" y="303.62" style="font-family:'Liberation Serif',serif;font-size:8.9px;font-weight:normal" text-anchor="end" fill="#222" stroke="#222" stroke-width="0.04" >1,2</text>
<text x="381.6" y="288.39" style="font-family:'Liberation Serif',serif;font-size:8.9px;font-weight:normal" text-anchor="end" fill="#222" stroke="#222" stroke-width="0.04" >1,4</text>
<text x="381.6" y="273.15999999999997" style="font-family:'Liberation Serif',serif;font-size:8.9px;font-weight:normal" text-anchor="end" fill="#222" stroke="#222" stroke-width="0.04" >1,6</text>
<text x="381.6" y="257.93" style="font-family:'Liberation Serif',serif;font-size:8.9px;font-weight:normal" text-anchor="end" fill="#222" stroke="#222" stroke-width="0.04" >1,8</text>
<text x="381.6" y="242.70000000000002" style="font-family:'Liberation Serif',serif;font-size:8.9px;font-weight:normal" text-anchor="end" fill="#222" stroke="#222" stroke-width="0.04" >2</text>
<text x="400.5" y="407.6" style="font-family:'Liberation Serif',serif;font-size:9.4px;font-weight:bold" text-anchor="middle" fill="#111" stroke="#111" stroke-width="0.08" >(–)</text>
<text x="420.5" y="407.6" style="font-family:'Liberation Serif',serif;font-size:9.4px;font-weight:bold" text-anchor="middle" fill="#111" stroke="#111" stroke-width="0.08" >21</text>
<text x="440.5" y="407.6" style="font-family:'Liberation Serif',serif;font-size:9.4px;font-weight:bold" text-anchor="middle" fill="#111" stroke="#111" stroke-width="0.08" >22</text>
<text x="460.5" y="407.6" style="font-family:'Liberation Serif',serif;font-size:9.4px;font-weight:bold" text-anchor="middle" fill="#111" stroke="#111" stroke-width="0.08" >23</text>
<text x="480.5" y="407.6" style="font-family:'Liberation Serif',serif;font-size:9.4px;font-weight:bold" text-anchor="middle" fill="#111" stroke="#111" stroke-width="0.08" >24</text>
<text x="439" y="421" style="font-family:'Liberation Sans',sans-serif;font-size:8.7px;font-weight:normal" text-anchor="middle" fill="#222" stroke="#222" stroke-width="0.18" textLength="66" lengthAdjust="spacingAndGlyphs">Oligosaccharides</text>
<text transform="translate(362.2,319.7) rotate(-90)" style="font-family:'Liberation Serif',serif;font-size:10.3px;font-weight:bold" text-anchor="middle" fill="#111">A(450)</text>
<line x1="400.5" y1="368.5" x2="400.5" y2="372" stroke="#8c8c8c" stroke-width="0.8" />
<line x1="399.0" y1="368.5" x2="402.0" y2="368.5" stroke="#8c8c8c" stroke-width="0.8" />
<line x1="399.0" y1="372" x2="402.0" y2="372" stroke="#8c8c8c" stroke-width="0.8" />
<line x1="420.5" y1="359.5" x2="420.5" y2="363" stroke="#8c8c8c" stroke-width="0.8" />
<line x1="419.0" y1="359.5" x2="422.0" y2="359.5" stroke="#8c8c8c" stroke-width="0.8" />
<line x1="419.0" y1="363" x2="422.0" y2="363" stroke="#8c8c8c" stroke-width="0.8" />
<line x1="440.5" y1="318.4" x2="440.5" y2="327.6" stroke="#8c8c8c" stroke-width="0.8" />
<line x1="439.0" y1="318.4" x2="442.0" y2="318.4" stroke="#8c8c8c" stroke-width="0.8" />
<line x1="439.0" y1="327.6" x2="442.0" y2="327.6" stroke="#8c8c8c" stroke-width="0.8" />
<line x1="460.5" y1="282.6" x2="460.5" y2="292.9" stroke="#8c8c8c" stroke-width="0.8" />
<line x1="459.0" y1="282.6" x2="462.0" y2="282.6" stroke="#8c8c8c" stroke-width="0.8" />
<line x1="459.0" y1="292.9" x2="462.0" y2="292.9" stroke="#8c8c8c" stroke-width="0.8" />
<line x1="480.5" y1="248.2" x2="480.5" y2="262.3" stroke="#8c8c8c" stroke-width="0.8" />
<line x1="479.0" y1="248.2" x2="482.0" y2="248.2" stroke="#8c8c8c" stroke-width="0.8" />
<line x1="479.0" y1="262.3" x2="482.0" y2="262.3" stroke="#8c8c8c" stroke-width="0.8" />
<polyline points="400.5,370.3 420.5,361.3 440.5,323.0 460.5,287.3 480.5,255.4" fill="none" stroke="#2c4a7a" stroke-width="1.3"/>
<rect x="398.9" y="368.7" width="3.2" height="3.2" fill="#4bacc6" transform="rotate(45 400.5 370.3)"/>
<rect x="418.9" y="359.7" width="3.2" height="3.2" fill="#4bacc6" transform="rotate(45 420.5 361.3)"/>
<rect x="438.9" y="321.4" width="3.2" height="3.2" fill="#4bacc6" transform="rotate(45 440.5 323.0)"/>
<rect x="458.9" y="285.7" width="3.2" height="3.2" fill="#4bacc6" transform="rotate(45 460.5 287.3)"/>
<rect x="478.9" y="253.8" width="3.2" height="3.2" fill="#4bacc6" transform="rotate(45 480.5 255.4)"/>
<line x1="398.7" y1="258" x2="408.3" y2="258" stroke="#2c4a7a" stroke-width="1.3" />
<rect x="402" y="256.5" width="3" height="3" fill="#4bacc6" transform="rotate(45 403.5 258)"/>
<text x="409.7" y="261.1" style="font-family:'Liberation Serif',serif;font-size:9.5px;font-weight:normal" text-anchor="start" fill="#111" stroke="#111" stroke-width="0.04" textLength="43" lengthAdjust="spacingAndGlyphs">Rabbit sera</text>
<text x="409.7" y="271.7" style="font-family:'Liberation Serif',serif;font-size:9.5px;font-weight:normal" text-anchor="start" fill="#111" stroke="#111" stroke-width="0.04" textLength="31.7" lengthAdjust="spacingAndGlyphs">(28 day)</text>
<text x="507" y="243" style="font-family:'Liberation Sans',sans-serif;font-size:11.4px;font-weight:bold" text-anchor="start" fill="#111" stroke="#111" stroke-width="0.35" textLength="5.9" lengthAdjust="spacingAndGlyphs" >F</text>
<line x1="530" y1="241.5" x2="683.5" y2="241.5" stroke="#555" stroke-width="1" />
<line x1="683.5" y1="241.5" x2="683.5" y2="383.7" stroke="#555" stroke-width="1" />
<line x1="533.5" y1="241.5" x2="533.5" y2="380.5" stroke="#a0a0a0" stroke-width="1" />
<line x1="533.5" y1="380.5" x2="683.5" y2="380.5" stroke="#555" stroke-width="1" />
<line x1="530.3" y1="380.5" x2="533.5" y2="380.5" stroke="#8c8c8c" stroke-width="0.9" />
<text x="525.7" y="383.6" style="font-family:'Liberation Serif',serif;font-size:9.4px;font-weight:normal" text-anchor="end" fill="#333" stroke="#333" stroke-width="0.04" >0</text>
<line x1="530.3" y1="352.7" x2="533.5" y2="352.7" stroke="#8c8c8c" stroke-width="0.9" />
<text x="525.7" y="355.8" style="font-family:'Liberation Serif',serif;font-size:9.4px;font-weight:normal" text-anchor="end" fill="#333" stroke="#333" stroke-width="0.04" >0,2</text>
<line x1="530.3" y1="324.9" x2="533.5" y2="324.9" stroke="#8c8c8c" stroke-width="0.9" />
<text x="525.7" y="328.0" style="font-family:'Liberation Serif',serif;font-size:9.4px;font-weight:normal" text-anchor="end" fill="#333" stroke="#333" stroke-width="0.04" >0,4</text>
<line x1="530.3" y1="297.1" x2="533.5" y2="297.1" stroke="#8c8c8c" stroke-width="0.9" />
<text x="525.7" y="300.20000000000005" style="font-family:'Liberation Serif',serif;font-size:9.4px;font-weight:normal" text-anchor="end" fill="#333" stroke="#333" stroke-width="0.04" >0,6</text>
<line x1="530.3" y1="269.3" x2="533.5" y2="269.3" stroke="#8c8c8c" stroke-width="0.9" />
<text x="525.7" y="272.40000000000003" style="font-family:'Liberation Serif',serif;font-size:9.4px;font-weight:normal" text-anchor="end" fill="#333" stroke="#333" stroke-width="0.04" >0,8</text>
<line x1="530.3" y1="241.5" x2="533.5" y2="241.5" stroke="#8c8c8c" stroke-width="0.9" />
<text x="525.7" y="244.6" style="font-family:'Liberation Serif',serif;font-size:9.4px;font-weight:normal" text-anchor="end" fill="#333" stroke="#333" stroke-width="0.04" >1</text>
<line x1="533.5" y1="380.5" x2="533.5" y2="383.5" stroke="#333" stroke-width="0.9" />
<line x1="550.1666666666666" y1="380.5" x2="550.1666666666666" y2="383.5" stroke="#333" stroke-width="0.9" />
<line x1="566.8333333333334" y1="380.5" x2="566.8333333333334" y2="383.5" stroke="#333" stroke-width="0.9" />
<line x1="583.5" y1="380.5" x2="583.5" y2="383.5" stroke="#333" stroke-width="0.9" />
<line x1="600.1666666666666" y1="380.5" x2="600.1666666666666" y2="383.5" stroke="#333" stroke-width="0.9" />
<line x1="616.8333333333334" y1="380.5" x2="616.8333333333334" y2="383.5" stroke="#333" stroke-width="0.9" />
<line x1="633.5" y1="380.5" x2="633.5" y2="383.5" stroke="#333" stroke-width="0.9" />
<line x1="650.1666666666666" y1="380.5" x2="650.1666666666666" y2="383.5" stroke="#333" stroke-width="0.9" />
<line x1="666.8333333333334" y1="380.5" x2="666.8333333333334" y2="383.5" stroke="#333" stroke-width="0.9" />
<line x1="683.5" y1="380.5" x2="683.5" y2="383.5" stroke="#333" stroke-width="0.9" />
<rect x="535.88" y="262.35" width="11.4" height="118.15" fill="#5886bf"/>
<rect x="569.22" y="298.21" width="11.4" height="82.29" fill="#5886bf"/>
<rect x="585.88" y="305.02" width="11.4" height="75.48" fill="#5886bf"/>
<rect x="602.55" y="314.06" width="11.4" height="66.44" fill="#5886bf"/>
<rect x="619.22" y="345.06" width="11.4" height="35.44" fill="#5886bf"/>
<rect x="635.88" y="359.09" width="11.4" height="21.41" fill="#5886bf"/>
<rect x="669.22" y="360.07" width="11.4" height="20.43" fill="#5886bf"/>
<line x1="541.8333333333334" y1="255.8" x2="541.8333333333334" y2="268.3" stroke="#111" stroke-width="1" />
<line x1="539.8333333333334" y1="255.8" x2="543.8333333333334" y2="255.8" stroke="#111" stroke-width="1" />
<line x1="539.8333333333334" y1="268.3" x2="543.8333333333334" y2="268.3" stroke="#111" stroke-width="1" />
<line x1="575.1666666666667" y1="293.3" x2="575.1666666666667" y2="303.2" stroke="#111" stroke-width="1" />
<line x1="573.1666666666667" y1="293.3" x2="577.1666666666667" y2="293.3" stroke="#111" stroke-width="1" />
<line x1="573.1666666666667" y1="303.2" x2="577.1666666666667" y2="303.2" stroke="#111" stroke-width="1" />
<line x1="591.8333333333334" y1="299.1" x2="591.8333333333334" y2="310.4" stroke="#111" stroke-width="1" />
<line x1="589.8333333333334" y1="299.1" x2="593.8333333333334" y2="299.1" stroke="#111" stroke-width="1" />
<line x1="589.8333333333334" y1="310.4" x2="593.8333333333334" y2="310.4" stroke="#111" stroke-width="1" />
<line x1="608.5" y1="308.4" x2="608.5" y2="319.1" stroke="#111" stroke-width="1" />
<line x1="606.5" y1="308.4" x2="610.5" y2="308.4" stroke="#111" stroke-width="1" />
<line x1="606.5" y1="319.1" x2="610.5" y2="319.1" stroke="#111" stroke-width="1" />
<line x1="625.1666666666667" y1="342.2" x2="625.1666666666667" y2="347.1" stroke="#111" stroke-width="1" />
<line x1="623.1666666666667" y1="342.2" x2="627.1666666666667" y2="342.2" stroke="#111" stroke-width="1" />
<line x1="623.1666666666667" y1="347.1" x2="627.1666666666667" y2="347.1" stroke="#111" stroke-width="1" />
<line x1="641.8333333333334" y1="357" x2="641.8333333333334" y2="361.4" stroke="#111" stroke-width="1" />
<line x1="639.8333333333334" y1="357" x2="643.8333333333334" y2="357" stroke="#111" stroke-width="1" />
<line x1="639.8333333333334" y1="361.4" x2="643.8333333333334" y2="361.4" stroke="#111" stroke-width="1" />
<line x1="675.1666666666667" y1="357.5" x2="675.1666666666667" y2="362.4" stroke="#111" stroke-width="1" />
<line x1="673.1666666666667" y1="357.5" x2="677.1666666666667" y2="357.5" stroke="#111" stroke-width="1" />
<line x1="673.1666666666667" y1="362.4" x2="677.1666666666667" y2="362.4" stroke="#111" stroke-width="1" />
<line x1="541" y1="250.5" x2="575.8" y2="250.5" stroke="#555" stroke-width="0.9" />
<path d="M559.60,260.45L559.60,255.35M561.81,259.17L557.39,256.62M557.39,259.17L561.81,256.62" stroke="#111" stroke-width="1.15" stroke-linecap="round"/>
<circle cx="559.6" cy="257.9" r="1.1" fill="#111"/>
<text transform="translate(508.4,311.1) rotate(-90)" style="font-family:'Liberation Serif',serif;font-size:9.9px;font-weight:bold" text-anchor="middle" fill="#111">A(450)</text>
<text transform="translate(544.5,392.5) rotate(-45)" style="font-family:'Liberation Serif',serif;font-size:9.2px" text-anchor="end" fill="#222">No inhibitor</text>
<text transform="translate(577.5,393) rotate(-45)" style="font-family:'Liberation Serif',serif;font-size:9.2px" text-anchor="end" fill="#222">0,16</text>
<text transform="translate(594.3,392.5) rotate(-45)" style="font-family:'Liberation Serif',serif;font-size:9.2px" text-anchor="end" fill="#222">0,8</text>
<text transform="translate(610.5,393) rotate(-45)" style="font-family:'Liberation Serif',serif;font-size:9.2px" text-anchor="end" fill="#222">4</text>
<text transform="translate(628,392.5) rotate(-45)" style="font-family:'Liberation Serif',serif;font-size:9.2px" text-anchor="end" fill="#222">20</text>
<text transform="translate(645,392.5) rotate(-45)" style="font-family:'Liberation Serif',serif;font-size:9.2px" text-anchor="end" fill="#222">100</text>
<text transform="translate(678.5,392) rotate(-45)" style="font-family:'Liberation Serif',serif;font-size:9.2px" text-anchor="end" fill="#222">Control</text>
<line x1="550.4" y1="406.8" x2="647" y2="406.8" stroke="#777" stroke-width="0.9" />
<text x="550.8" y="420.3" style="font-family:'Liberation Serif',serif;font-size:10px;font-weight:normal" text-anchor="start" fill="#222" stroke="#222" stroke-width="0.04" textLength="90.4" lengthAdjust="spacingAndGlyphs">Conc. of CβG (μg/mL)</text>
</svg>
</body></html>
